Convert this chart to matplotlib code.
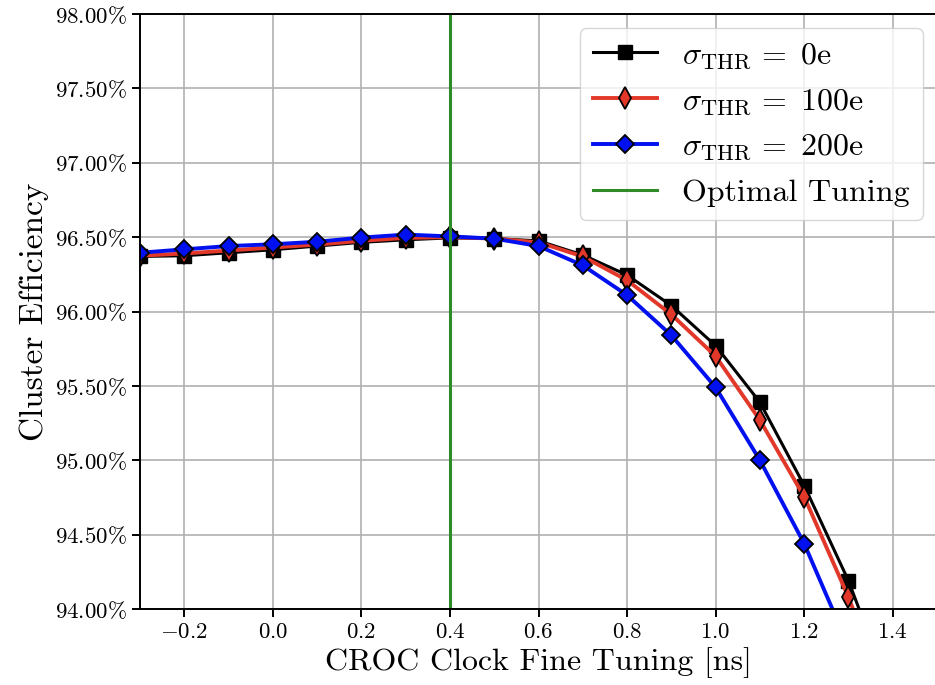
import numpy as np
import matplotlib.pyplot as plt
from matplotlib.ticker import FuncFormatter, MultipleLocator

# --- CROC clock fine tuning scan: cluster efficiency vs. delay ---

plt.rcParams['font.family'] = 'cmr10'
plt.rcParams['mathtext.fontset'] = 'cm'
plt.rcParams['axes.formatter.use_mathtext'] = True

# delay settings [ns]
tuning = [-0.3, -0.2, -0.1, 0.0, 0.1, 0.2, 0.3, 0.4, 0.5, 0.6,
          0.7, 0.8, 0.9, 1.0, 1.1, 1.2, 1.3, 1.4]

# cluster efficiency [%] for each threshold dispersion
eff_0e = [96.37, 96.375, 96.395, 96.415, 96.44, 96.465, 96.482, 96.495, 96.49, 96.475,
          96.38, 96.245, 96.04, 95.77, 95.39, 94.83, 94.19, 93.40]
eff_100e = [96.375, 96.39, 96.41, 96.43, 96.45, 96.475, 96.495, 96.50, 96.49, 96.465,
            96.37, 96.21, 95.98, 95.70, 95.27, 94.755, 94.08, 93.30]
eff_200e = [96.395, 96.418, 96.44, 96.452, 96.469, 96.497, 96.517, 96.505, 96.49, 96.44,
            96.31, 96.11, 95.84, 95.49, 95.00, 94.44, 93.75, 92.90]

optimal = 0.4

fig = plt.figure(figsize=(9.35, 6.85), dpi=100)
ax = fig.add_axes([140 / 935, 76 / 685, 797 / 935, 595 / 685])

ax.plot(tuning, eff_0e, color='black', linewidth=2.2, marker='s', markersize=10,
        markeredgecolor='black', label=r'$\sigma_{\mathrm{THR}}\,=\;0\mathrm{e}$')
ax.plot(tuning, eff_100e, color='#e2382a', linewidth=2.8, marker='d', markersize=11,
        markeredgecolor='black', markeredgewidth=1.3, label=r'$\sigma_{\mathrm{THR}}\,=\;100\mathrm{e}$')
ax.plot(tuning, eff_200e, color='#0010ee', linewidth=2.8, marker='D', markersize=9.5,
        markeredgecolor='black', markeredgewidth=1.3, label=r'$\sigma_{\mathrm{THR}}\,=\;200\mathrm{e}$')
ax.axvline(optimal, color='#2f8a2a', linewidth=2.2, label='Optimal Tuning')

ax.set_xlim(-0.3, 1.5)
ax.set_ylim(94.0, 98.0)
ax.xaxis.set_major_locator(MultipleLocator(0.2))
ax.yaxis.set_major_locator(MultipleLocator(0.5))
ax.yaxis.set_major_formatter(FuncFormatter(lambda v, p: rf'${v:.2f}\%$'))
ax.grid(True, color='#b0b0b0', linewidth=1.2)
ax.set_axisbelow(True)

for s in ax.spines.values():
    s.set_linewidth(1.4)
ax.spines['right'].set_visible(False)
ax.tick_params(labelsize=16.5, width=1.4, length=6)

ax.set_xlabel('CROC Clock Fine Tuning [ns]', fontsize=23)
ax.set_ylabel('Cluster Efficiency', fontsize=24)

ax.legend(loc='upper right', fontsize=23, framealpha=0.8, handlelength=2.0,
          borderaxespad=0.45)

fig.savefig('out.png', dpi=100)
